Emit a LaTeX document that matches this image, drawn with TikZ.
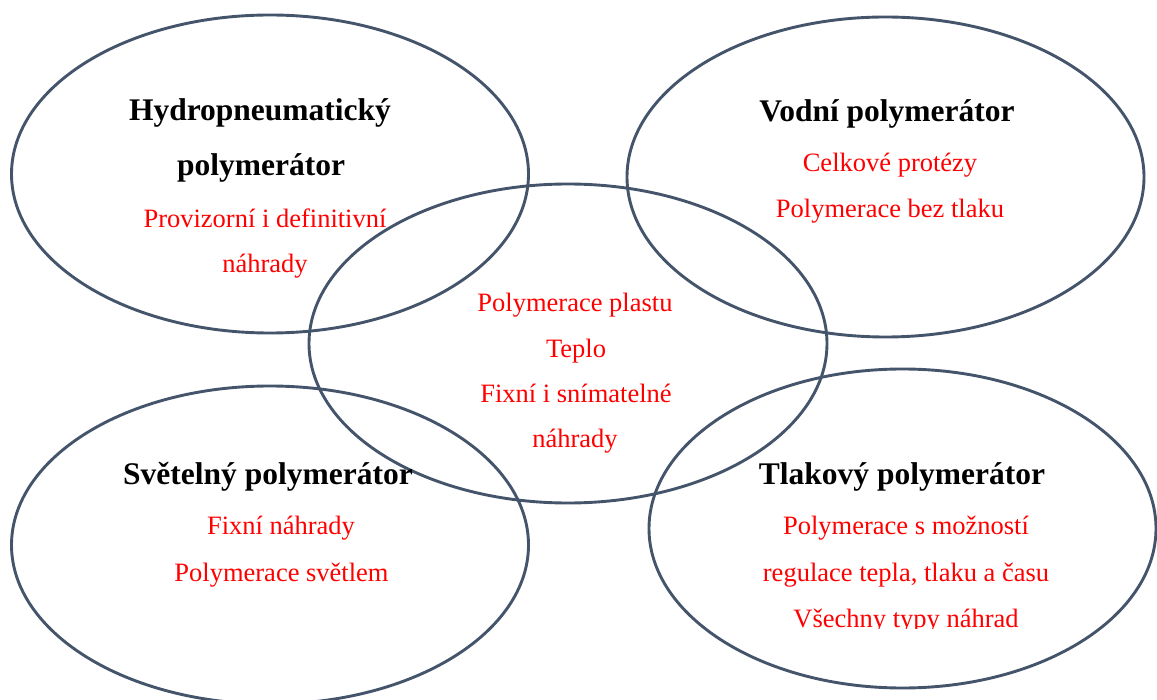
\documentclass[tikz,border=0pt]{standalone}
\usepackage{fontspec}
\setmainfont{Liberation Serif}
\usetikzlibrary{shapes.geometric}
\definecolor{ringcol}{HTML}{44546A}
\definecolor{redtxt}{HTML}{FF0000}
\begin{document}
\begin{tikzpicture}[x=1pt,y=-1pt,
  ring/.style={draw=ringcol, line width=2.9pt, ellipse, inner sep=0pt, outer sep=0pt},
  ttl/.style={font=\fontsize{31.5}{36}\selectfont\bfseries, anchor=base, inner sep=0pt, text=black},
  lab/.style={font=\fontsize{26.5}{30}\selectfont, anchor=base, inner sep=0pt, text=redtxt}]
\useasboundingbox[fill=white] (0,0) rectangle (1157,700);
% ellipses
\node[ring, minimum width=517pt, minimum height=318pt] (tl) at (270,174) {};
\node[ring, minimum width=517pt, minimum height=320pt] (tr) at (885.5,177) {};
\node[ring, minimum width=518pt, minimum height=319pt] (ce) at (568,343.5) {};
\node[ring, minimum width=517pt, minimum height=318pt] (bl) at (270,545) {};
\node[ring, minimum width=507pt, minimum height=319pt] (br) at (902.5,528.5) {};
% top-left
\node[ttl] (tlt1) at (260,121) {Hydropneumatický};
\node[ttl] (tlt2) at (261,176) {polymerátor};
\node[lab] (tll1) at (265,228) {Provizorní i definitivní};
\node[lab] (tll2) at (265,273) {náhrady};
% top-right
\node[ttl] (trt) at (887,122) {Vodní polymerátor};
\node[lab] (trl1) at (890,172) {Celkové protézy};
\node[lab] (trl2) at (890,218) {Polymerace bez tlaku};
% centre
\node[lab] (cel1) at (575,312) {Polymerace plastu};
\node[lab] (cel2) at (576,358) {Teplo};
\node[lab] (cel3) at (576,403) {Fixní i snímatelné};
\node[lab] (cel4) at (575,448) {náhrady};
% bottom-left
\node[ttl] (blt) at (268,485) {Světelný polymerátor};
\node[lab] (bll1) at (281,534) {Fixní náhrady};
\node[lab] (bll2) at (281.5,581) {Polymerace světlem};
% bottom-right
\node[ttl] (brt) at (902,484) {Tlakový polymerátor};
\node[lab] (brl1) at (906,534) {Polymerace s možností};
\node[lab] (brl2) at (906,581) {regulace tepla, tlaku a času};
\begin{scope}
\clip (650,590) rectangle (1157,628);
\node[lab] (brl3) at (906,627) {Všechny typy náhrad};
\end{scope}
\end{tikzpicture}
\end{document}
